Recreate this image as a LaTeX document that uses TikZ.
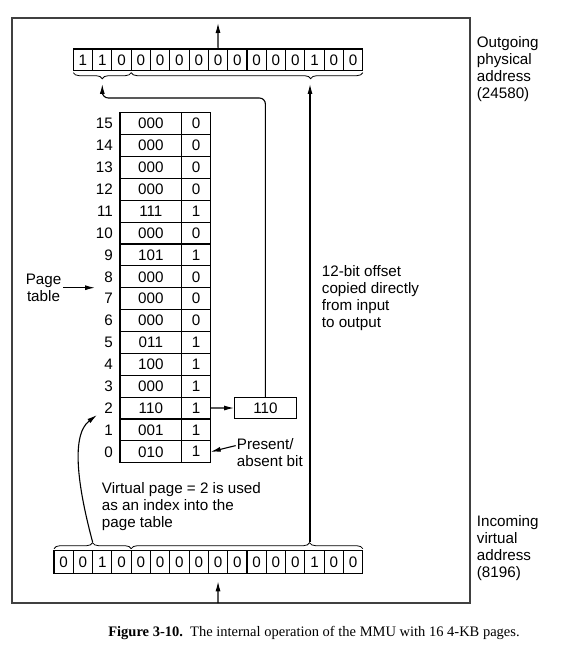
\documentclass[tikz,border=0pt]{standalone}
\usepackage{fontspec}
\setmainfont{Liberation Sans}
\newfontfamily\capfont{Liberation Serif}
\usetikzlibrary{positioning,calc,decorations.pathreplacing,arrows.meta}

\begin{document}
\begin{tikzpicture}[
    x=1pt, y=-1pt,
    every node/.style={font=\fontsize{15.2}{17}\selectfont},
    cell/.style={draw, line width=1.1pt, minimum width=19.3pt, minimum height=21.7pt, inner sep=0pt, outer sep=0pt},
    frm_cell/.style={draw, line width=1.1pt, minimum width=61.7pt, minimum height=21.875pt, inner sep=0pt, outer sep=0pt},
    bit_cell/.style={frm_cell, minimum width=29pt},
    lbl/.style={align=left, anchor=north west, inner sep=0pt},
    arr/.style={-{Latex[length=10pt,width=5pt]}, line width=1.1pt},
    brc/.style={decorate, decoration={brace, amplitude=6pt}, line width=0.8pt}
]
\useasboundingbox (0,0) rectangle (560,658);

% ===== MMU box =====
\draw[line width=1.3pt, black!75] (12,18) rectangle (470,603);

% ===== OUTGOING REGISTER (15 bits) =====
\foreach \d [count=\k] in {1,1,0,0,0,0,0,0,0,0,0,0,1,0,0}
    \node[cell] (t\k) at ({73.3+19.3*(\k-0.5)},59.85) {\d};
\draw[brc, decoration={mirror, aspect=0.5}] ([yshift=-2pt]t1.south west) -- ([yshift=-2pt]t3.south east);
\draw[brc, decoration={mirror, aspect=0.775}] ([yshift=-2pt]t4.south west) -- ([yshift=-2pt]t15.south east);
\coordinate (physhi) at (102.3,84);
\coordinate (physlo) at (310,84);
\coordinate (outp) at (218,23);
\draw[arr] (t8.north) -- (outp);

% ===== INCOMING REGISTER (16 bits) =====
\foreach \d [count=\k] in {0,0,1,0,0,0,0,0,0,0,0,0,0,1,0,0}
    \node[cell, minimum height=22.6pt] (b\k) at ({54+19.3*(\k-0.5)},562) {\d};
\draw[brc, decoration={aspect=0.5}] ([yshift=2pt]b1.north west) -- ([yshift=2pt]b4.north east);
\draw[brc, decoration={aspect=0.77}] ([yshift=2pt]b5.north west) -- ([yshift=2pt]b16.north east);
\coordinate (virthi) at (92.6,542);
\coordinate (virtlo) at (310,542);
\coordinate (inp) at (218,603);
\draw[arr] (inp) -- ([yshift=-8pt]b9.south);

% ===== PAGE TABLE =====
\foreach \r/\f/\b in {15/000/0,14/000/0,13/000/0,12/000/0,11/111/1,10/000/0,9/101/1,8/000/0,
                      7/000/0,6/000/0,5/011/1,4/100/1,3/000/1,2/110/1,1/001/1,0/010/1}{
    \node[frm_cell] (p\r) at (150.85,{123.64+(15-\r)*21.875}) {\f};
    \node[bit_cell, right=0pt of p\r] (v\r) {\b};
    \node[anchor=east, inner sep=0pt] (n\r) at ([xshift=-7pt]p\r.west) {\r};
}

% Page frame taken from entry 2
\node[frm_cell, minimum width=62.7pt] (pframe) at (265.4,408) {110};
\draw[arr] (v2) -- (pframe);
\draw[arr, rounded corners=6pt] (pframe.north) |- ($(physhi)+(0,14)$) -- (physhi);

% Offset copied straight through
\draw[arr] (virtlo) -- (physlo);

% Index into the table
\coordinate (idx) at (97,415);
\draw[arr] (virthi) .. controls (80,495) and (69,436) .. (idx);

% ===== Labels =====
\node[align=center, inner sep=2pt] (ptab) at (43.5,287.7) {Page\\table};
\coordinate (ptgt) at (95,287.7);
\draw[arr] (ptab.east) -- (ptgt);

\node[lbl] (pab) at (236.7,438.3) {Present/\\absent bit};
\draw[arr] ([xshift=-1pt,yshift=7pt]pab.west) -- (v0.east);

\node[lbl] (vpage) at (101.7,482.7) {Virtual page = 2 is used\\as an index into the\\page table};
\node[lbl] (offs) at (321.7,265) {12-bit offset\\copied directly\\from input\\to output};
\node[lbl] (outgo) at (476.7,36) {Outgoing\\physical\\address\\(24580)};
\node[lbl] (incom) at (476.7,515.5) {Incoming\\virtual\\address\\(8196)};

% Caption
\node[font=\capfont\fontsize{14.5}{17}\selectfont] (caption) at (314,633)
    {\textbf{Figure 3-10.}\ \ The internal operation of the MMU with 16 4-KB pages.};

\end{tikzpicture}
\end{document}
